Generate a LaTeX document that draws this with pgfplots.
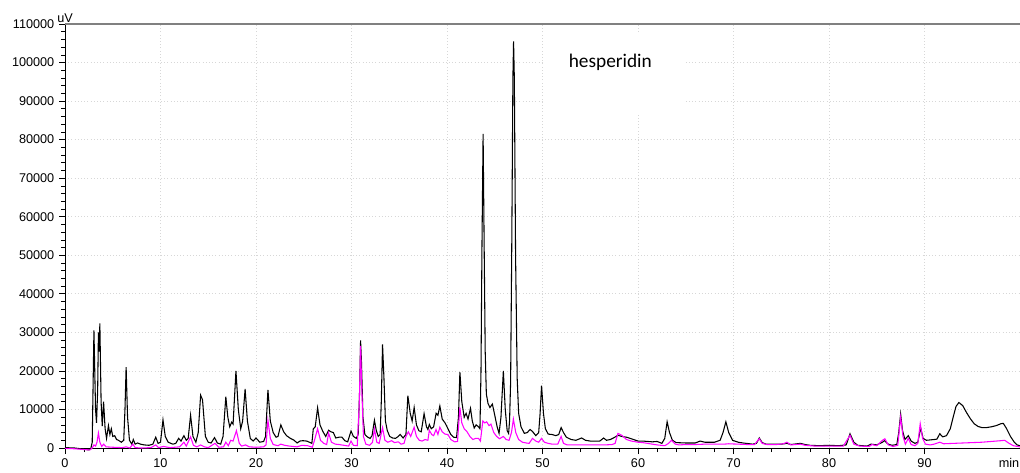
\documentclass[border=0pt]{standalone}
\usepackage{fontspec}
\setmainfont{Liberation Sans}
\newfontfamily\calibri{Carlito}
\usepackage{pgfplots}
\pgfplotsset{compat=1.18}
\definecolor{mag}{RGB}{255,0,255}
\definecolor{gridc}{RGB}{215,215,215}
\definecolor{topc}{RGB}{128,128,128}
\begin{document}
\begin{tikzpicture}
\begin{axis}[
  at={(0,0)}, anchor=south west,
  scale only axis,
  width=716.25pt, height=318pt,
  xmin=0, xmax=100, ymin=0, ymax=110000,
  axis x line*=bottom, axis y line*=left,
  axis line style={black, line width=0.6pt, -},
  xtick={0,10,...,90}, ytick={0,10000,...,110000},
  minor x tick num=4, minor y tick num=4,
  tick align=outside,
  major tick length=4.5pt, minor tick length=3pt,
  tick style={black, line width=0.5pt},
  scaled y ticks=false,
  yticklabel style={/pgf/number format/.cd, fixed, set thousands separator={}, assume math mode=true},
  xticklabel style={/pgf/number format/.cd, assume math mode=true},
  ticklabel style={font=\fontsize{9.5}{11}\selectfont},
  grid=major,
  major grid style={gridc, dotted, line width=0.6pt},
  clip=false,
]
\draw[topc, line width=1.5pt] (rel axis cs:0,1) -- (rel axis cs:1.02,1);
\fill[white] (axis cs:50.3,86400) rectangle (axis cs:64.9,107100);
\node[anchor=base, inner sep=0pt, font=\calibri\fontsize{14.5}{16}\selectfont] at (axis cs:57.1,98600) {hesperidin};
\node[anchor=south, inner sep=1pt, font=\fontsize{9.5}{11}\selectfont] at (rel axis cs:0,1) {uV};
\node[anchor=north east, inner sep=0pt, yshift=-7.5pt, font=\fontsize{9.5}{11}\selectfont] at (axis cs:99.95,0) {min};
\addplot[black, line width=0.8pt] coordinates {
(0,100)(1,0)(2,-300)(2.5,-500)(2.7,-200)(2.85,1500)(3.03,30500)(3.2,10000)(3.3,6500)(3.42,15000)(3.5,30000)(3.58,25000)(3.65,32300)(3.78,12000)(3.9,5700)(4.04,12000)(4.2,5000)(4.35,2500)(4.55,5800)(4.7,3500)(4.85,5000)(5.0,3000)(5.2,3200)(5.4,2200)(5.6,2000)(5.9,1500)(6.15,2000)(6.28,10000)(6.4,21000)(6.55,8000)(6.75,2000)(7.0,1000)(7.15,2200)(7.35,1000)(7.6,1300)(7.9,1000)(8.3,800)(8.8,700)(9.2,1000)(9.5,2800)(9.75,1200)(10.0,1500)(10.26,7300)(10.5,3000)(10.8,1500)(11.3,1000)(11.6,1200)(11.9,2500)(12.15,1800)(12.45,3200)(12.7,2000)(12.9,2500)(13.15,8500)(13.4,3000)(13.7,1500)(13.95,4000)(14.2,13700)(14.4,12500)(14.7,3000)(15.0,1500)(15.3,1300)(15.66,2700)(15.95,1300)(16.3,1000)(16.55,3000)(16.84,13300)(17.05,8000)(17.25,5500)(17.45,6700)(17.6,6200)(17.9,20000)(18.15,10000)(18.4,5000)(18.6,7000)(18.86,15300)(19.1,7000)(19.4,2500)(19.7,1800)(20.0,2600)(20.4,1500)(20.8,1700)(21.0,3000)(21.25,15100)(21.5,7000)(21.8,4000)(22.1,2800)(22.3,3000)(22.6,6000)(22.9,4200)(23.2,3200)(23.6,2500)(24.0,2000)(24.3,1300)(24.6,1800)(24.9,1900)(25.3,1800)(25.6,1500)(25.85,1200)(26.0,5000)(26.2,5500)(26.45,10400)(26.7,6000)(27.0,4300)(27.3,3000)(27.6,4600)(27.85,4200)(28.1,4000)(28.35,2600)(28.7,2800)(29.0,2800)(29.3,1900)(29.6,1600)(29.95,4400)(30.2,3000)(30.5,2500)(30.7,3500)(30.85,15000)(30.95,27900)(31.05,22000)(31.2,8000)(31.4,3500)(31.7,2800)(31.95,2500)(32.15,3200)(32.4,7200)(32.6,4500)(32.8,3000)(33.0,3500)(33.12,12000)(33.25,26900)(33.4,18000)(33.55,7000)(33.75,4500)(34.0,3000)(34.3,2600)(34.6,2500)(34.9,3000)(35.1,3500)(35.4,2600)(35.7,3500)(35.9,13600)(36.15,9000)(36.35,7000)(36.56,10500)(36.8,6000)(37.05,4500)(37.3,4200)(37.6,8900)(37.85,5500)(38.0,4800)(38.15,6100)(38.35,5000)(38.6,5500)(38.86,9000)(39.05,8500)(39.25,10900)(39.5,7500)(39.8,6500)(40.1,5000)(40.4,3500)(40.7,2800)(41.0,2700)(41.2,8000)(41.35,19700)(41.55,12000)(41.8,8000)(42.0,9000)(42.2,7500)(42.46,10300)(42.65,7000)(42.85,5200)(43.05,6000)(43.3,5500)(43.45,5000)(43.56,20000)(43.66,52000)(43.78,81500)(43.9,50000)(44.0,25000)(44.12,14000)(44.3,11500)(44.5,10500)(44.75,11400)(45.0,8500)(45.25,5500)(45.45,3800)(45.65,8000)(45.9,20000)(46.1,10000)(46.3,4500)(46.45,3800)(46.55,7000)(46.66,17000)(46.78,52000)(46.9,96000)(46.97,105500)(47.05,96000)(47.18,50000)(47.35,18000)(47.5,9000)(47.75,5500)(48.1,3800)(48.4,4000)(48.7,4800)(48.95,4300)(49.3,3200)(49.6,4000)(49.75,9000)(49.9,16200)(50.1,9000)(50.3,5000)(50.6,3600)(51.0,3500)(51.4,3200)(51.7,3500)(51.95,5300)(52.2,4000)(52.5,2800)(53.0,2200)(53.5,2000)(54.1,2600)(54.5,2000)(55.0,1800)(55.5,1800)(56.0,1800)(56.4,2600)(56.7,2000)(57.1,2200)(57.5,2700)(57.9,3300)(58.3,3000)(58.8,2800)(59.3,2400)(60.0,1800)(60.5,1800)(61.0,1700)(61.5,1600)(62.0,1700)(62.5,1200)(62.8,2500)(63.05,6800)(63.3,4000)(63.6,2000)(64.0,1400)(65.0,1300)(66.0,1300)(66.5,1800)(67.0,1500)(68.0,1500)(68.6,2000)(68.9,4000)(69.2,6800)(69.5,4000)(69.9,2000)(70.5,1500)(71.0,1300)(72.0,1000)(72.4,1200)(72.7,2600)(73.0,1400)(73.4,1000)(74.0,1000)(75.0,1000)(75.6,1200)(76.0,900)(77.0,1200)(77.5,900)(78.0,700)(79.0,600)(80.0,700)(81.0,600)(81.8,800)(82.2,3700)(82.6,1500)(83.0,700)(84.0,500)(84.4,1000)(85.0,800)(85.6,1500)(85.8,1900)(86.2,1000)(86.6,700)(87.1,900)(87.3,4000)(87.5,8800)(87.7,4500)(87.95,2200)(88.3,3200)(88.6,1800)(89.0,1200)(89.3,1500)(89.6,5200)(89.85,2500)(90.2,2000)(90.6,2100)(91.0,2200)(91.3,2300)(91.6,3700)(91.9,2900)(92.3,3200)(92.7,5000)(93.0,8000)(93.3,10800)(93.6,11800)(94.0,11000)(94.4,9200)(94.8,7600)(95.2,6300)(95.6,5600)(96.0,5300)(96.5,5300)(97.0,5500)(97.5,5800)(98.0,6300)(98.25,6400)(98.6,5000)(99.0,3000)(99.4,1500)(99.7,800)(100,600)
};
\addplot[mag, line width=0.8pt] coordinates {
(0,-100)(1,-200)(2,-400)(2.6,-500)(2.85,0)(3.03,800)(3.2,500)(3.35,1500)(3.5,3900)(3.65,1500)(3.85,400)(4.05,1000)(4.3,300)(5.0,200)(6.0,100)(6.4,300)(6.8,0)(7.1,1000)(7.35,100)(8.0,0)(9.0,100)(9.5,800)(9.8,100)(10.3,400)(11.0,100)(12.0,300)(12.45,1500)(12.7,500)(13.15,2900)(13.45,700)(13.8,300)(14.2,800)(14.6,300)(15.0,100)(15.7,1200)(16.1,200)(16.6,300)(16.84,1500)(17.1,600)(17.35,2000)(17.6,1800)(17.95,4500)(18.25,1200)(18.5,500)(18.9,800)(19.3,300)(20.0,200)(20.8,300)(21.05,800)(21.25,7200)(21.5,2500)(21.8,900)(22.3,600)(22.6,1000)(23.0,700)(23.5,500)(24.3,300)(24.8,700)(25.4,600)(25.9,200)(26.1,1800)(26.45,5000)(26.75,2000)(27.1,1200)(27.4,900)(27.6,3900)(27.9,1500)(28.3,1000)(28.7,900)(29.2,700)(29.7,500)(29.95,1800)(30.2,700)(30.6,600)(30.82,12000)(30.95,26500)(31.08,15000)(31.25,3000)(31.5,1000)(31.9,700)(32.2,1500)(32.4,5000)(32.65,1500)(32.9,1200)(33.25,5300)(33.5,2000)(33.8,1500)(34.2,1900)(34.5,1400)(34.9,1600)(35.2,1000)(35.5,1200)(35.7,3000)(35.95,4200)(36.2,3000)(36.56,5400)(36.8,3000)(37.1,2000)(37.4,1800)(37.7,2200)(38.0,2000)(38.15,4600)(38.4,3500)(38.6,3200)(38.85,4800)(39.05,3500)(39.25,5400)(39.5,4200)(39.8,3600)(40.1,3500)(40.4,2200)(40.8,1600)(41.1,1700)(41.35,10500)(41.55,6500)(41.8,5000)(42.1,4200)(42.4,3000)(42.7,2200)(43.0,2500)(43.3,2500)(43.5,1800)(43.75,7000)(43.95,6500)(44.15,6800)(44.4,5800)(44.6,6200)(44.9,4000)(45.2,3000)(45.5,2400)(45.9,3000)(46.2,2200)(46.5,2000)(46.75,4000)(46.95,7500)(47.2,4000)(47.5,2200)(47.9,1500)(48.3,1300)(48.6,1200)(48.95,2500)(49.3,1800)(49.6,1500)(49.9,2500)(50.2,1500)(50.6,1200)(51.0,1000)(51.6,1000)(51.95,3000)(52.2,1200)(52.6,800)(53.5,800)(54.5,800)(55.5,800)(56.5,800)(57.3,900)(57.6,1200)(57.9,3800)(58.3,3300)(58.8,2200)(59.3,1800)(60.0,1500)(60.5,1400)(61.0,1200)(62.0,800)(62.8,600)(63.2,1200)(63.5,2000)(63.9,1000)(64.3,800)(65.0,900)(66.0,900)(67.0,1000)(68.0,1000)(69.0,1000)(69.5,1100)(70.5,1000)(71.5,900)(72.2,900)(72.7,2400)(73.0,1200)(73.5,900)(74.5,900)(75.2,1100)(75.6,1500)(76.0,800)(77.0,1000)(77.5,700)(78.5,500)(80.0,500)(81.5,500)(82.2,3300)(82.6,1000)(83.2,500)(84.2,400)(84.5,900)(85.0,600)(85.6,2000)(85.85,2400)(86.2,800)(86.7,400)(87.2,700)(87.5,8000)(87.75,3000)(88.0,1000)(88.3,2500)(88.6,900)(89.0,600)(89.3,1200)(89.55,6300)(89.8,2500)(90.1,1000)(90.6,800)(91.0,1000)(91.6,1500)(92.0,1100)(93.0,1200)(94.0,1300)(95.0,1400)(96.0,1500)(97.0,1700)(98.0,1900)(98.4,2000)(98.8,1300)(99.3,600)(100,300)
};
\end{axis}
\pgfresetboundingbox
\path (-48.75pt,-18pt) rectangle (716.25pt,336pt);
\end{tikzpicture}
\end{document}
